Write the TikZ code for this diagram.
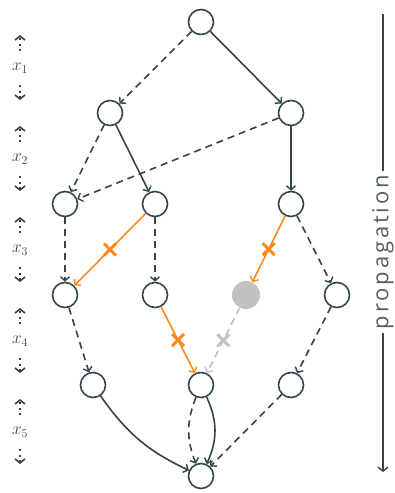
\documentclass[tikz,border=0pt]{standalone}
\usepackage{fontspec}
\newfontfamily\propfont[LetterSpace=13]{Open Sans}
\usetikzlibrary{arrows.meta,shapes.misc}
\definecolor{dk}{HTML}{33444A}
\definecolor{orng}{HTML}{FF8A1C}
\definecolor{lgray}{HTML}{C2C2C2}
\tikzset{
  vtx/.style={circle,draw=dk,line width=1.6pt,minimum size=25pt,inner sep=0pt},
  gvtx/.style={circle,fill=lgray,minimum size=28pt,inner sep=0pt},
  edge/.style={draw=dk,line width=1.6pt,-{Straight Barb[length=4pt,width=9pt,line width=1.4pt]}},
  dsh/.style={edge,dash pattern=on 7pt off 5pt},
  oedge/.style={edge,draw=orng},
  gedge/.style={dsh,draw=lgray},
  xmark/.style={cross out,draw=#1,line width=3pt,minimum size=9pt,inner sep=0pt},
  lbl/.style={text=dk,font=\fontsize{17}{17}\selectfont},
  vdot/.style={draw=dk,line width=2.2pt,dash pattern=on 2pt off 3.5pt,-{Straight Barb[length=4pt,width=10pt,line width=1.6pt]}},
}
\begin{document}
\begin{tikzpicture}[x=1pt,y=-1pt]
\useasboundingbox (0,0) rectangle (395,493);
% nodes
\node[vtx] (a) at (201,22) {};
\node[vtx] (b1) at (110,113) {};
\node[vtx] (b2) at (291,113) {};
\node[vtx] (c1) at (65,204) {};
\node[vtx] (c2) at (155,204) {};
\node[vtx] (c3) at (291,204) {};
\node[vtx] (d1) at (65,295) {};
\node[vtx] (d2) at (155,295) {};
\node[gvtx] (d3) at (246,295) {};
\node[vtx] (d4) at (337,295) {};
\node[vtx] (e1) at (93,385) {};
\node[vtx] (e2) at (201,385) {};
\node[vtx] (e3) at (291,385) {};
\node[vtx] (f) at (201,476) {};
% edges
\draw[dsh] (a) -- (b1);
\draw[edge] (a) -- (b2);
\draw[dsh] (b1) -- (c1);
\draw[edge] (b1) -- (c2);
\draw[dsh] (b2) -- (c1);
\draw[edge] (b2) -- (c3);
\draw[dsh] (c1) -- (d1);
\draw[oedge] (c2) -- node[xmark=orng] (x1) {} (d1);
\draw[dsh] (c2) -- (d2);
\draw[oedge] (c3) -- node[xmark=orng] (x2) {} (d3);
\draw[dsh] (c3) -- (d4);
\draw[dsh] (d1) -- (e1);
\draw[oedge] (d2) -- node[xmark=orng] (x3) {} (e2);
\draw[gedge] (d3) -- node[xmark=lgray,solid] (x4) {} (e2);
\draw[dsh] (d4) -- (e3);
\draw[edge] (e1) to[bend right=15] (f);
\draw[dsh] (e2) to[bend right=22] (f);
\draw[edge] (e2) to[bend left=25] (f);
\draw[dsh] (e3) -- (f);
% left labels
\foreach \i/\y in {1/68,2/159,3/250,4/341,5/432}{
  \node[lbl] (l\i) at (20,\y) {$x_{\i}$};
  \coordinate (us\i) at (20,\y-17);
  \coordinate (u\i) at (20,\y-33);
  \coordinate (ws\i) at (20,\y+17);
  \coordinate (w\i) at (20,\y+32);
  \draw[vdot] (us\i) -- (u\i);
  \draw[vdot] (ws\i) -- (w\i);
}
% propagation
\node[rotate=90,text=dk!85,font=\propfont\fontsize{22}{22}\selectfont,inner sep=4pt] (p) at (383,252) {propagation};
\coordinate (ptop) at (383,14);
\coordinate (pbot) at (383,472);
\draw[dk,line width=1.6pt] (ptop) -- (p.east);
\draw[dk,line width=1.6pt,-{Straight Barb[length=4pt,width=10pt,line width=1.4pt]}] (p.west) -- (pbot);
\end{tikzpicture}
\end{document}
